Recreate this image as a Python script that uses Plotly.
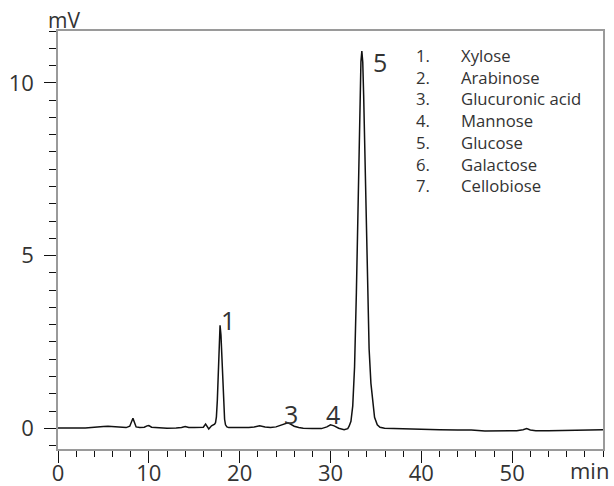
import plotly.graph_objects as go

# Chromatogram trace (time in min, signal in mV)
time_min = [0, 1, 2, 3, 4, 4.5, 5, 5.5, 6, 6.5, 7, 7.5, 7.9, 8.1, 8.25, 8.4, 8.6, 9.0, 9.5, 9.8,
            10.0, 10.3, 11, 12, 13, 13.6, 14.0, 14.4, 15, 15.6, 16.0, 16.25, 16.4, 16.6, 16.9, 17.1,
            17.24, 17.34, 17.44, 17.54, 17.64, 17.74, 17.84, 17.94, 18.04, 18.14, 18.24, 18.34, 18.44,
            18.6, 18.8, 19.2, 20, 21, 21.6, 22.2, 22.8, 23.4, 24.0, 24.6, 25.0, 25.3, 25.6, 26.0, 26.5,
            27.0, 28.0, 29.0, 29.6, 30.0, 30.4, 30.9, 31.5, 31.9, 32.05, 32.25, 32.45, 32.65, 32.85,
            33.05, 33.25, 33.35, 33.45, 33.55, 33.65, 33.85, 34.05, 34.25, 34.45, 34.65, 34.85, 35.15,
            35.45, 35.95, 37, 38, 40, 42, 44, 45.5, 47, 49, 50.5, 51.2, 51.6, 52.0, 52.6, 54, 56, 58, 60]
signal_mv = [0.01, 0.0, 0.01, 0.01, 0.02, 0.04, 0.05, 0.06, 0.05, 0.04, 0.02, 0.02, 0.06, 0.2, 0.29,
             0.18, 0.04, 0.02, 0.03, 0.07, 0.08, 0.03, 0.01, 0.0, 0.01, 0.02, 0.05, 0.02, 0.02, 0.02,
             0.03, 0.12, 0.05, -0.02, 0.07, 0.1,
             0.12, 0.16, 0.33, 0.8, 1.65, 2.57, 2.98, 2.7, 1.98, 1.2, 0.6, 0.26, 0.1,
             0.04, 0.02, 0.02, 0.01, 0.02, 0.04, 0.07, 0.04, 0.02, 0.04, 0.09, 0.14, 0.16, 0.12, 0.06,
             0.02, 0.0, -0.01, -0.01, 0.04, 0.1, 0.07, 0.0, -0.04, -0.01, 0.06, 0.2, 0.65, 1.78, 3.94,
             6.94, 9.75, 10.61, 10.92, 10.6, 9.65, 7.0, 4.3, 2.3, 1.3, 0.7, 0.32, 0.1,
             0.03, 0.0, -0.01, -0.02, -0.04, -0.04, -0.05, -0.05, -0.08, -0.08, -0.07, -0.04, -0.01,
             -0.05, -0.07, -0.07, -0.06, -0.05, -0.04]

# Peak number labels
peak_labels = ["1", "3", "4", "5"]
peak_label_x = [18.75, 25.7, 30.3, 35.5]
peak_label_y = [3.12, 0.4, 0.4, 10.6]

# Compound list
compound_numbers = ["1.", "2.", "3.", "4.", "5.", "6.", "7."]
compound_names = ["Xylose", "Arabinose", "Glucuronic acid", "Mannose", "Glucose", "Galactose", "Cellobiose"]

x_tick_vals = [0, 10, 20, 30, 40, 50]
y_tick_vals = [0, 5, 10]

FONT = "Open Sans"
TXT = "#333333"
GRID = "#9a9a9a"

L, R, T, B = 57.5, 603, 31, 449
W, H = 614, 486
plot_w = R - L
plot_h = B - T

fig = go.Figure()
fig.add_trace(go.Scatter(x=time_min, y=signal_mv, mode="lines",
                         line=dict(color="#111111", width=1.5), showlegend=False, hoverinfo="skip"))

for lab, lx, ly in zip(peak_labels, peak_label_x, peak_label_y):
    fig.add_annotation(x=lx, y=ly, text=lab, showarrow=False,
                       font=dict(family=FONT, size=25, color=TXT), xanchor="center", yanchor="middle")

# compound list (two columns of multi-line text)
list_top_pix = 43
yp = 1 - (list_top_pix - T) / plot_h
fig.add_annotation(xref="paper", yref="paper", x=(415 - L) / plot_w, y=yp,
                   text="<br>".join(compound_numbers), showarrow=False, xanchor="left", yanchor="top",
                   align="left", borderpad=0, font=dict(family=FONT, size=16.7, color=TXT))
fig.add_annotation(xref="paper", yref="paper", x=(460 - L) / plot_w, y=yp,
                   text="<br>".join(compound_names), showarrow=False, xanchor="left", yanchor="top",
                   align="left", borderpad=0, font=dict(family=FONT, size=16.7, color=TXT))

# axis unit labels
fig.add_annotation(xref="paper", yref="paper", x=(64 - L) / plot_w, y=1.0, text="mV",
                   showarrow=False, xanchor="center", yanchor="bottom", yshift=-4, borderpad=0,
                   font=dict(family=FONT, size=21, color=TXT))
fig.add_annotation(xref="paper", yref="paper", x=(610 - L) / plot_w, y=(B - 470) / plot_h, text="min",
                   showarrow=False, xanchor="right", yanchor="middle", borderpad=0,
                   font=dict(family=FONT, size=22, color=TXT))

fig.update_xaxes(range=[0, 60], tickvals=x_tick_vals, ticks="outside", ticklen=12, tickwidth=1.3,
                 tickcolor="#111111", showline=True, linecolor=GRID, linewidth=1.5, mirror=True,
                 showgrid=False, zeroline=False, automargin=False, ticklabelstandoff=-8,
                 tickfont=dict(family=FONT, size=22, color=TXT),
                 minor=dict(dtick=2, ticks="outside", ticklen=6, tickcolor="#111111", tickwidth=1.3,
                            showgrid=False))
fig.update_yaxes(range=[-0.6, 11.5], tickvals=y_tick_vals, ticks="outside", ticklen=12, tickwidth=1.3,
                 tickcolor="#111111", showline=True, linecolor=GRID, linewidth=1.5, mirror=True,
                 showgrid=False, zeroline=False, automargin=False, ticklabelstandoff=6,
                 tickfont=dict(family=FONT, size=22, color=TXT),
                 minor=dict(dtick=0.5, ticks="outside", ticklen=7, tickcolor="#111111", tickwidth=1.3,
                            showgrid=False))

fig.update_layout(width=W, height=H, margin=dict(l=L, r=W - R, t=T, b=H - B, pad=0),
                  paper_bgcolor="white", plot_bgcolor="white", showlegend=False)

fig.write_html("out.html")
